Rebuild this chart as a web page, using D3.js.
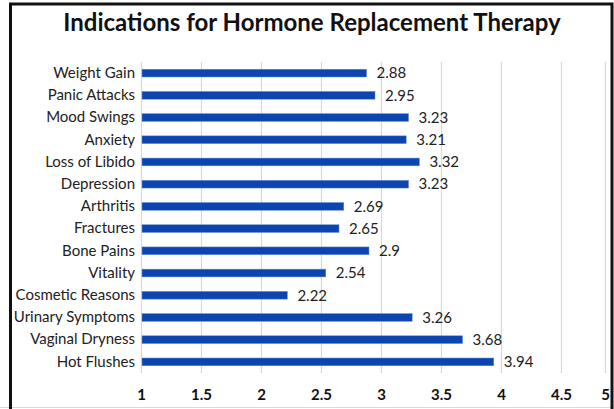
<!DOCTYPE html>
<html>
<head>
<meta charset="utf-8">
<script src="https://cdn.jsdelivr.net/npm/d3@7"></script>
<style>
  body { margin: 0; background: #fff; }
  svg text { font-family: Lato, "Open Sans", sans-serif; }
</style>
</head>
<body>
<svg id="chart" width="614" height="409"></svg>
<script>
// данные графика
const categories = ["Weight Gain", "Panic Attacks", "Mood Swings", "Anxiety", "Loss of Libido",
  "Depression", "Arthritis", "Fractures", "Bone Pains", "Vitality", "Cosmetic Reasons",
  "Urinary Symptoms", "Vaginal Dryness", "Hot Flushes"];
const values = [2.88, 2.95, 3.23, 3.21, 3.32, 3.23, 2.69, 2.65, 2.9, 2.54, 2.22, 3.26, 3.68, 3.94];
const valueLabels = ["2.88", "2.95", "3.23", "3.21", "3.32", "3.23", "2.69", "2.65", "2.9", "2.54", "2.22", "3.26", "3.68", "3.94"];
const tickValues = [1, 1.5, 2, 2.5, 3, 3.5, 4, 4.5, 5];
const tickLabels = ["1", "1.5", "2", "2.5", "3", "3.5", "4", "4.5", "5"];

const svg = d3.select("#chart");

// рамка
svg.append("line").attr("x1", 0).attr("x2", 614).attr("y1", 407.5).attr("y2", 407.5)
  .attr("stroke", "#d9d9d9").attr("stroke-width", 1);
svg.append("path")
  .attr("d", "M10.5,409 V4 H612 V409")
  .attr("fill", "none").attr("stroke", "#111").attr("stroke-width", 3);

// заголовок
svg.append("text")
  .attr("x", 312).attr("y", 31)
  .attr("text-anchor", "middle")
  .style("font-size", "24px").style("font-weight", "bold").style("fill", "#111")
  .text("Indications for Hormone Replacement Therapy");

// шкалы (правый край картинки обрезан, поэтому последний интервал короче)
const scX = d3.scaleLinear().domain([1, 4.5, 5]).range([141, 561, 605]);
const scY = d3.scaleBand().domain(categories).range([62, 373]).paddingInner(0.65).paddingOuter(0.325);

// сетка
svg.append("g").selectAll("line")
  .data(tickValues)
  .enter().append("line")
  .attr("x1", d => Math.round(scX(d)) + 0.5).attr("x2", d => Math.round(scX(d)) + 0.5)
  .attr("y1", 62).attr("y2", 373)
  .attr("stroke", "#d9d9d9").attr("stroke-width", 1.2);

// ось X
const axX = svg.append("g")
  .attr("transform", "translate(0,373)")
  .call(d3.axisBottom(scX).tickValues(tickValues).tickFormat((d, i) => tickLabels[i]).tickSize(0).tickPadding(16));
axX.select(".domain").remove();
axX.selectAll("text")
  .style("font-family", "Lato, sans-serif")
  .style("font-size", "15px").style("font-weight", "bold").style("fill", "#111");

// ось Y
const axY = svg.append("g")
  .attr("transform", "translate(135,0)")
  .call(d3.axisLeft(scY).tickSize(0).tickPadding(0));
axY.select(".domain").remove();
axY.selectAll("text")
  .style("font-family", "Lato, sans-serif")
  .style("font-size", "15px").style("fill", "#222");

// столбцы
svg.append("g").selectAll("rect")
  .data(values)
  .enter().append("rect")
  .attr("x", scX(1) + 1)
  .attr("y", (d, i) => scY(categories[i]))
  .attr("width", d => scX(d) - scX(1) - 1)
  .attr("height", scY.bandwidth())
  .attr("fill", "#0d45b0")
  .attr("stroke", "#6a8fd6").attr("stroke-width", 0.5);

// подписи значений
svg.append("g").selectAll("text")
  .data(values)
  .enter().append("text")
  .attr("x", d => scX(d) + 10)
  .attr("y", (d, i) => scY(categories[i]) + scY.bandwidth() / 2)
  .attr("dy", "0.35em")
  .style("font-size", "15px").style("fill", "#222")
  .text((d, i) => valueLabels[i]);
</script>
</body>
</html>
